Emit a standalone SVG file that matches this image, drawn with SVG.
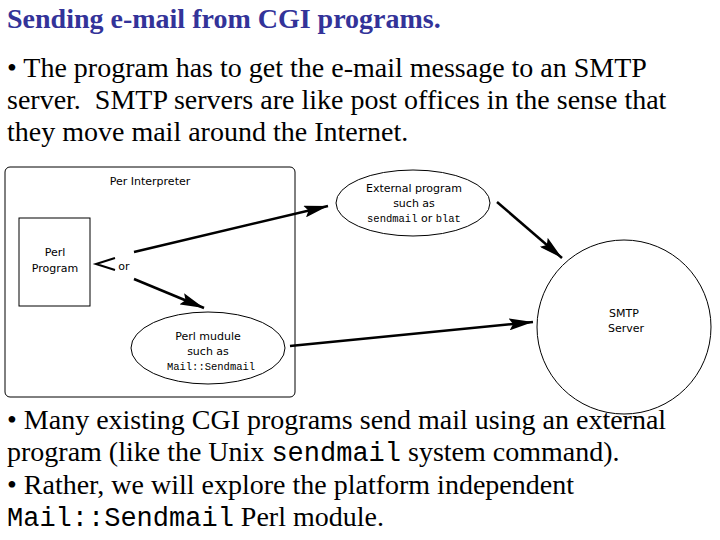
<svg xmlns="http://www.w3.org/2000/svg" width="720" height="540" viewBox="0 0 720 540">
<defs>
<style>
.title{font-family:'Liberation Serif','Times New Roman',Tinos,'DejaVu Serif',serif;font-weight:bold;font-size:28px;fill:#333399}
.txt{font-family:'Liberation Serif','Times New Roman',Tinos,'DejaVu Serif',serif;font-size:28px;fill:#000}
.mono{font-family:'Liberation Mono','Courier New',Cousine,'DejaVu Sans Mono',monospace;font-size:27px}
.lbl{font-family:'DejaVu Sans','Liberation Sans',sans-serif;font-size:11px;fill:#000;text-anchor:middle}
.lmono{font-family:'Liberation Mono','Courier New','DejaVu Sans Mono',monospace;font-size:10.5px}
.shape{fill:#fff;stroke:#000;stroke-width:1}
.conn{fill:none;stroke:#000;stroke-width:2.5}
</style>
<marker id="ahb" viewBox="0 0 24 12" refX="24" refY="6" markerWidth="24" markerHeight="12" markerUnits="userSpaceOnUse" orient="auto">
<path d="M0,0 L24,6 L0,12 L4,6 z" fill="#000"/>
</marker>
</defs>
<rect width="720" height="540" fill="#fff"/>
<text class="title" x="7" y="28">Sending e-mail from CGI programs.</text>
<text class="txt" x="7" y="77">• The program has to get the e-mail message to an SMTP</text>
<text class="txt" x="7" y="109" xml:space="preserve">server.  SMTP servers are like post offices in the sense that</text>
<text class="txt" x="7" y="141">they move mail around the Internet.</text>

<g id="interpreter">
<rect class="shape" x="5" y="167" width="290" height="230" rx="5"/>
<text class="lbl" x="150" y="185">Per Interpreter</text>
</g>
<g id="perl-program">
<rect class="shape" x="19" y="218" width="71" height="88"/>
<text class="lbl" x="55" y="256">Perl</text>
<text class="lbl" x="55" y="272">Program</text>
</g>
<g id="choice">
<path d="M115,258 L96,264 L115,270" fill="none" stroke="#000" stroke-width="2"/>
<text class="lbl" x="124" y="270">or</text>
</g>
<g id="external-program">
<ellipse class="shape" cx="413" cy="203" rx="77" ry="33"/>
<text class="lbl" x="414" y="192">External program</text>
<text class="lbl" x="414" y="207">such as</text>
<text class="lbl" x="414" y="222"><tspan class="lmono">sendmail</tspan> or <tspan class="lmono">blat</tspan></text>
</g>
<g id="perl-module">
<ellipse class="shape" cx="208" cy="348" rx="77" ry="36"/>
<text class="lbl" x="208" y="340">Perl mudule</text>
<text class="lbl" x="208" y="355">such as</text>
<text class="lbl lmono" x="211" y="370">Mail::Sendmail</text>
</g>
<g id="smtp-server">
<circle class="shape" cx="624" cy="327" r="87"/>
<text class="lbl" x="624" y="317">SMTP</text>
<text class="lbl" x="626" y="332">Server</text>
</g>
<g id="connectors">
<line class="conn" x1="134" y1="252" x2="328" y2="206" marker-end="url(#ahb)"/>
<line class="conn" x1="134" y1="279" x2="204" y2="308" marker-end="url(#ahb)"/>
<line class="conn" x1="290" y1="346" x2="533" y2="322" marker-end="url(#ahb)"/>
<line class="conn" x1="497" y1="202" x2="562" y2="258" marker-end="url(#ahb)"/>
</g>

<text class="txt" x="7" y="429">• Many existing CGI programs send mail using an external</text>
<text class="txt" x="7" y="461">program (like the Unix <tspan class="mono">sendmail</tspan> system command).</text>
<text class="txt" x="7" y="494">• Rather, we will explore the platform independent</text>
<text class="txt" x="7" y="526"><tspan class="mono">Mail::Sendmail</tspan> Perl module.</text>
</svg>
